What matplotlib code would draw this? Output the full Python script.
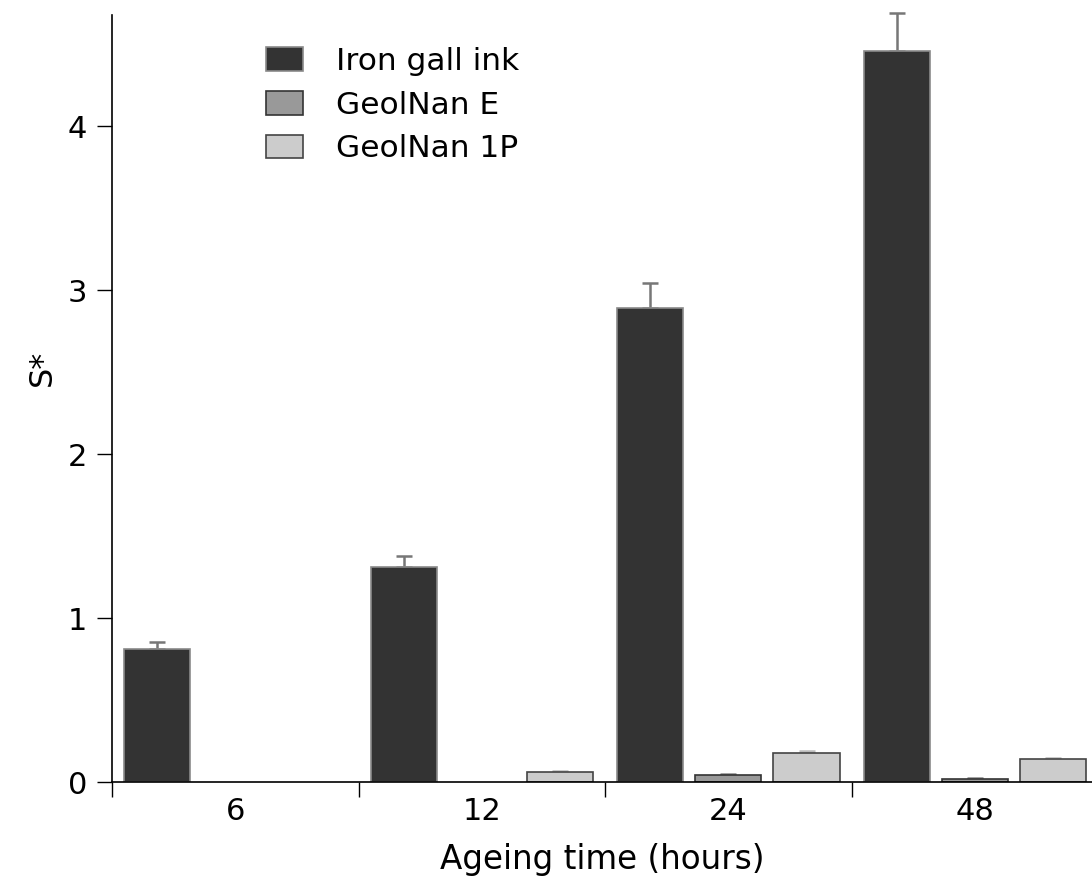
import numpy as np
import matplotlib.pyplot as plt

plt.rcParams['font.family'] = ['DejaVu Sans']

hours = ['6', '12', '24', '48']
series = ['Iron gall ink', 'GeolNan E', 'GeolNan 1P']
iron = [0.81, 1.31, 2.895, 4.46]
iron_err = [0.045, 0.068, 0.15, 0.23]
geo_e = [np.nan, np.nan, 0.041, 0.02]
geo_e_err = [0, 0, 0.008, 0.005]
geo_1p = [np.nan, 0.061, 0.179, 0.139]
geo_1p_err = [0, 0.008, 0.011, 0.009]

values = [iron, geo_e, geo_1p]
errors = [iron_err, geo_e_err, geo_1p_err]
fills = ['#333333', '#999999', '#cccccc']
edges = ['#8a8a8a', '#333333', '#444444']
err_colors = ['#777777', '#888888', '#bbbbbb']
offsets = [-0.317, 0.0, 0.317]

fig = plt.figure(figsize=(10.92, 8.9), dpi=100)
ax = fig.add_axes([112 / 1092, 1 - 782 / 890, 1 - 112 / 1092, (782 - 15) / 890])

x = np.arange(len(hours)) + 0.5
for vals, errs, fc, ec, erc, off, name in zip(values, errors, fills, edges, err_colors, offsets, series):
    vals = np.array(vals, dtype=float)
    ax.bar(x + off, vals, width=0.268, color=fc, edgecolor=ec, linewidth=1.2, label=name, zorder=2)
    ok = ~np.isnan(vals)
    eb = ax.errorbar((x + off)[ok], vals[ok], yerr=[np.zeros(ok.sum()), np.array(errs)[ok]],
                     fmt='none', ecolor=erc, elinewidth=1.8, capsize=5.5, capthick=1.8, zorder=1)
    for art in eb.lines[1] + eb.lines[2]:
        art.set_clip_on(False)

ax.set_xlim(0, 3.975)
ax.set_ylim(0, 4.68)
ax.set_yticks([0, 1, 2, 3, 4])
ax.set_xticks(x)
ax.set_xticklabels(hours)
ax.set_xticks([0, 1, 2, 3], minor=True)
ax.tick_params(axis='x', which='major', length=0, pad=11, labelsize=22)
ax.tick_params(axis='x', which='minor', length=11, width=1, direction='out')
ax.tick_params(axis='y', length=11, width=1, direction='out', pad=7, labelsize=22)

for s in ['top', 'right']:
    ax.spines[s].set_visible(False)
for s in ['left', 'bottom']:
    ax.spines[s].set_linewidth(1.2)

ax.set_ylabel('S*', fontsize=23)
ax.yaxis.set_label_coords(-0.055, 0.54)
ax.set_xlabel('Ageing time (hours)', fontsize=23.5, labelpad=12)

ax.legend(loc='upper left', bbox_to_anchor=(0.128, 0.995), frameon=False, fontsize=22.5,
          handlelength=1.2, handleheight=0.8, handletextpad=1.05, labelspacing=0.47)

fig.savefig('out.png', dpi=100)
